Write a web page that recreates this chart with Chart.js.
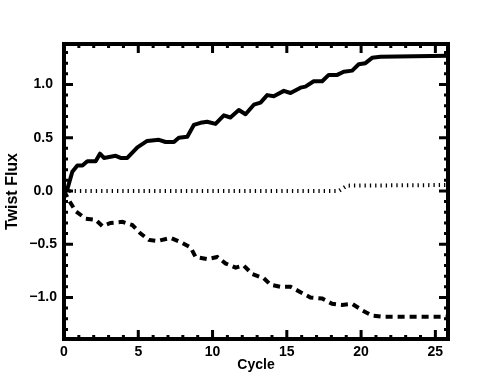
<!DOCTYPE html>
<html><head><meta charset="utf-8">
<script src="https://cdn.jsdelivr.net/npm/chart.js@4/dist/chart.umd.min.js"></script>
<style>html,body{margin:0;padding:0;background:#fff}#wrap{width:489px;height:391px}</style>
</head><body><div id="wrap"><canvas id="c" width="489" height="391"></canvas></div>
<script>
const solidX = [0,0.23,0.56,0.9,1.24,1.57,2.13,2.42,2.69,3.48,3.81,4.26,4.94,5.6,6.39,6.84,7.4,7.73,8.3,8.74,9.19,9.64,10.2,10.76,11.2,11.77,12.22,12.78,13.23,13.68,14.12,14.8,15.25,15.92,16.25,16.81,17.38,17.82,18.39,18.83,19.4,19.84,20.29,20.74,21.3,25.85];
const solidY = [0,0.02,0.18,0.24,0.24,0.28,0.28,0.35,0.31,0.33,0.31,0.31,0.41,0.47,0.48,0.46,0.46,0.5,0.51,0.62,0.64,0.65,0.63,0.71,0.69,0.76,0.72,0.81,0.83,0.9,0.89,0.94,0.92,0.97,0.98,1.03,1.03,1.09,1.09,1.12,1.13,1.19,1.2,1.25,1.26,1.27];
const dottedX = [0,18.5,19.06,25.85];
const dottedY = [0,0,0.05,0.056];
const dashedX = [0,0.34,0.79,1.46,2.13,2.58,3.14,3.93,4.6,5.16,5.72,6.28,7.18,7.85,8.52,8.86,9.64,10.32,10.87,11.55,12.1,12.67,13.45,13.9,14.57,15.25,15.92,16.59,17.38,18.05,18.72,19.4,20.07,20.74,21.41,25.85];
const dashedY = [0,-0.09,-0.19,-0.26,-0.27,-0.33,-0.3,-0.29,-0.32,-0.4,-0.46,-0.47,-0.44,-0.48,-0.53,-0.62,-0.64,-0.62,-0.68,-0.72,-0.7,-0.78,-0.82,-0.88,-0.9,-0.9,-0.95,-1.0,-1.01,-1.06,-1.07,-1.06,-1.12,-1.17,-1.18,-1.18];
const xTicks = [0,5,10,15,20,25];
const yTicks = [-1.0,-0.5,0.0,0.5,1.0];
const xTitle = 'Cycle';
const yTitle = 'Twist Flux';

const pts = (xs, ys) => xs.map((x, i) => ({x, y: ys[i]}));
const FAM = '"Liberation Sans", Arial, Helvetica, sans-serif';
const FONT = {family: FAM, size: 14, weight: 'bold'};

const framePlugin = {
  id: 'frame',
  afterDraw(chart) {
    const {ctx, chartArea: a, scales: {x, y}} = chart;
    ctx.save();
    ctx.strokeStyle = '#000';
    ctx.lineCap = 'butt';
    ctx.lineWidth = 3;
    for (let v = 0; v <= 25.0001; v += 1) {
      const px = x.getPixelForValue(v);
      const major = Math.abs(v % 5) < 1e-6;
      const len = major ? 9 : 4;
      ctx.beginPath();
      ctx.moveTo(px, a.bottom); ctx.lineTo(px, a.bottom - len);
      ctx.moveTo(px, a.top); ctx.lineTo(px, a.top + len);
      ctx.stroke();
    }
    for (let k = -13; k <= 13; k++) {
      const v = k / 10;
      const py = y.getPixelForValue(v);
      const major = k % 5 === 0;
      const len = major ? 9 : 4;
      ctx.beginPath();
      ctx.moveTo(a.left, py); ctx.lineTo(a.left + len, py);
      ctx.moveTo(a.right, py); ctx.lineTo(a.right - len, py);
      ctx.stroke();
    }
    ctx.lineWidth = 4;
    ctx.strokeRect(a.left, a.top, a.right - a.left, a.bottom - a.top);
    ctx.restore();
  }
};

new Chart(document.getElementById('c'), {
  type: 'line',
  data: {
    datasets: [
      {data: pts(solidX, solidY), borderColor: '#000', borderWidth: 4, pointRadius: 0, tension: 0, fill: false, borderJoinStyle: 'round', borderCapStyle: 'round'},
      {data: pts(dottedX, dottedY), borderColor: '#000', borderWidth: 4, borderDash: [1.3, 4], pointRadius: 0, tension: 0, fill: false},
      {data: pts(dashedX, dashedY), borderColor: '#000', borderWidth: 4, borderDash: [7, 5], pointRadius: 0, tension: 0, fill: false}
    ]
  },
  options: {
    responsive: false,
    animation: false,
    devicePixelRatio: 1,
    layout: {padding: {top: 44, right: 41, left: 0, bottom: 0}},
    plugins: {legend: {display: false}, tooltip: {enabled: false}},
    scales: {
      x: {
        type: 'linear', min: 0, max: 25.85,
        afterFit(s) { s.height = 52; },
        afterBuildTicks(s) { s.ticks = xTicks.map(v => ({value: v})); },
        grid: {display: false, drawTicks: false},
        border: {display: false},
        ticks: {color: '#000', font: FONT, padding: 5, maxRotation: 0, autoSkip: false, callback: v => String(v)},
        title: {display: true, text: xTitle, color: '#000', font: FONT, padding: {top: 0, bottom: 17}}
      },
      y: {
        type: 'linear', min: -1.39, max: 1.38,
        afterFit(s) { s.width = 64; },
        afterBuildTicks(s) { s.ticks = yTicks.map(v => ({value: v})); },
        grid: {display: false, drawTicks: false},
        border: {display: false},
        ticks: {color: '#000', font: FONT, padding: 7, crossAlign: 'center', autoSkip: false,
          callback: v => (v < 0 ? '\u2212' : '') + Math.abs(v).toFixed(1)},
        title: {display: true, text: yTitle, color: '#000', font: {family: FAM, size: 16, weight: 'bold'}, padding: {top: 2.5, bottom: 0}}
      }
    }
  },
  plugins: [framePlugin]
});
</script></body></html>
